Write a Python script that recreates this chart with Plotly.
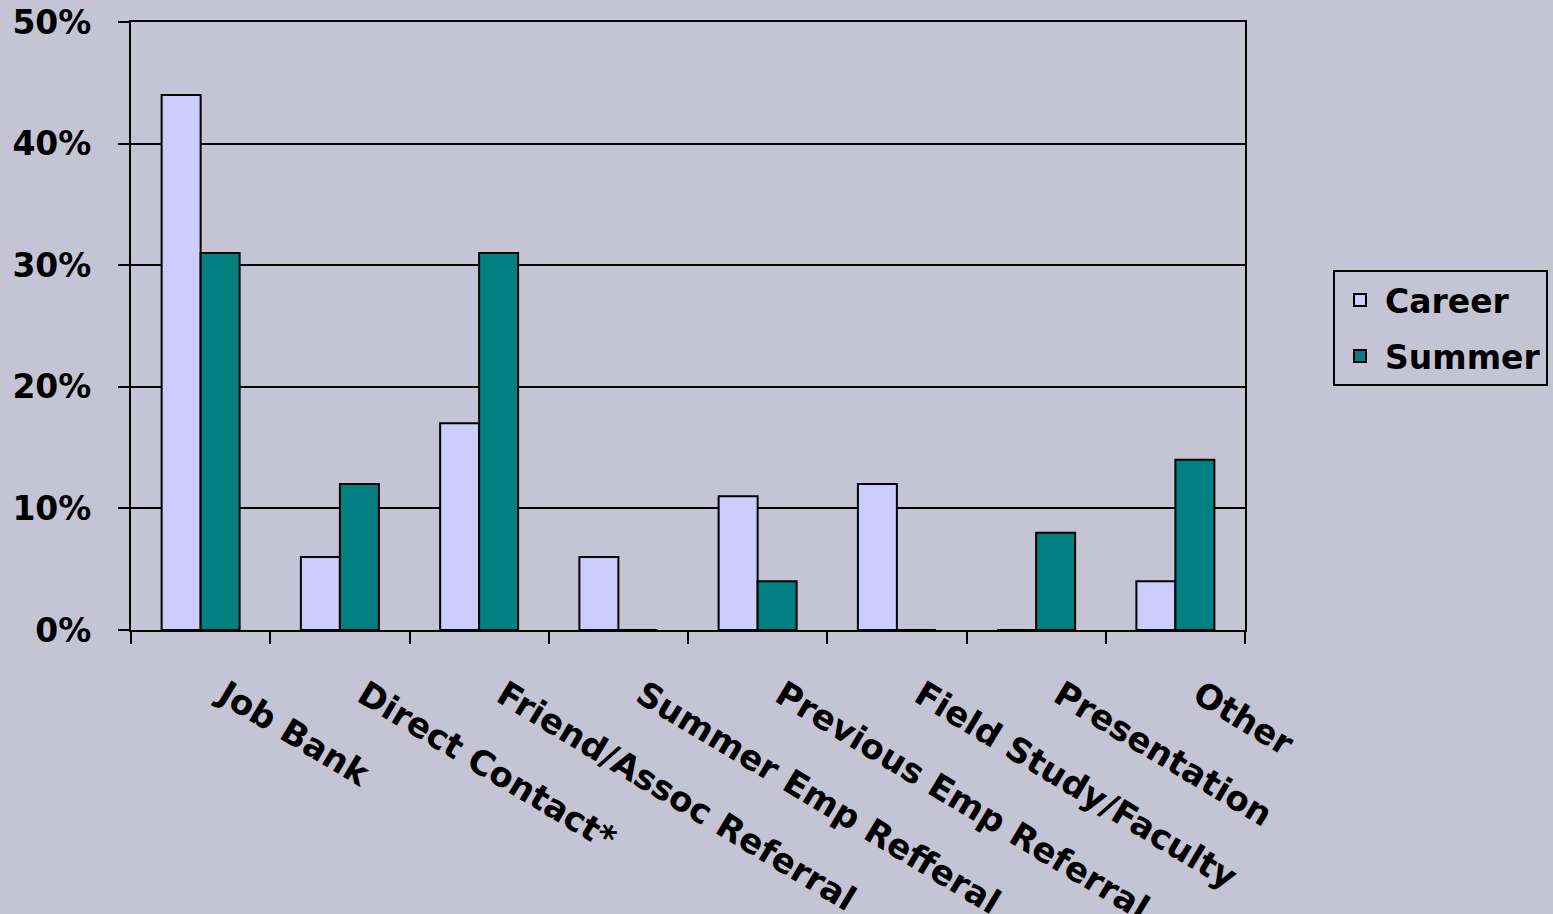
import plotly.graph_objects as go

categories = ["Job Bank", "Direct Contact*", "Friend/Assoc Referral", "Summer Emp Refferal",
              "Previous Emp Referral", "Field Study/Faculty", "Presentation", "Other"]
career = [44, 6, 17, 6, 11, 12, 0, 4]
summer = [31, 12, 31, 0, 4, 0, 8, 14]
y_ticks = [0, 10, 20, 30, 40, 50]
y_tick_labels = ["0%", "10%", "20%", "30%", "40%", "50%"]

BG = "#C4C4D4"
FAM = "DejaVu Sans, Liberation Sans, Arial, sans-serif"
FONT = dict(family=FAM, size=33, color="black", weight="bold")
XFONT = dict(family=FAM, size=34, color="black", weight="bold")

fig = go.Figure()
fig.add_trace(go.Bar(name="Career", x=categories, y=career, legendgroup="c",
                     marker=dict(color="#CCCCFF", line=dict(color="black", width=2))))
fig.add_trace(go.Bar(name="Summer", x=categories, y=summer, legendgroup="s",
                     marker=dict(color="#008080", line=dict(color="black", width=2))))

fig.update_layout(
    width=1553, height=914,
    paper_bgcolor=BG, plot_bgcolor=BG,
    margin=dict(l=131, r=308, t=22, b=284, autoexpand=False),
    barmode="group", bargap=0.44, bargroupgap=0,
    font=FONT,
    showlegend=True,
    legend=dict(x=1.079, y=0.592, xanchor="left", yanchor="top",
                bgcolor=BG, bordercolor="black", borderwidth=2,
                font=FONT, itemsizing="constant", tracegroupgap=10, itemwidth=40),
)
fig.update_xaxes(
    type="category", tickangle=31, tickson="boundaries",
    ticks="outside", ticklen=12, tickwidth=2, tickcolor="black",
    showline=True, linecolor="black", linewidth=2, mirror=True,
    showgrid=False, tickfont=XFONT, automargin=False,
    ticklabelstandoff=30, ticklabelshift=24,
)
fig.update_yaxes(
    range=[0, 50], tickmode="array", tickvals=y_ticks, ticktext=y_tick_labels,
    ticks="outside", ticklen=11, tickwidth=2, tickcolor="black",
    showline=True, linecolor="black", linewidth=2, mirror=True,
    showgrid=True, gridcolor="black", gridwidth=2, zeroline=False,
    tickfont=FONT, automargin=False,
    ticklabelstandoff=20,
)
fig.write_html("out.html", config={"displayModeBar": False})

with open("out.html", "r", encoding="utf-8") as f:
    html = f.read()
html = html.replace("<body>", '<body style="margin:0;overflow:hidden">', 1)
with open("out.html", "w", encoding="utf-8") as f:
    f.write(html)
